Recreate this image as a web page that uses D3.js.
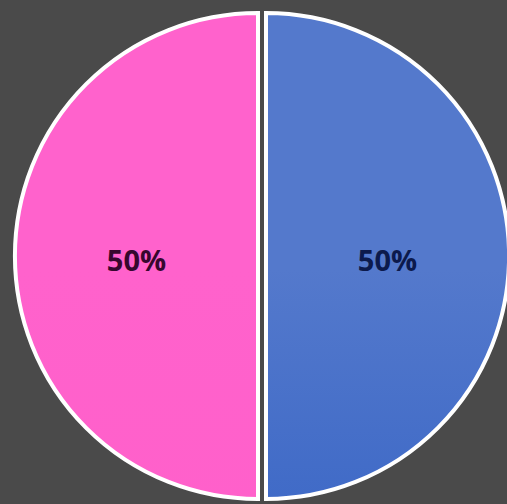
<!DOCTYPE html>
<html>
<head>
<meta charset="utf-8">
<script src="https://cdn.jsdelivr.net/npm/d3@7"></script>
<style>
  html, body { margin: 0; padding: 0; background: #4a4a4a; overflow: hidden; }
  svg { display: block; }
</style>
</head>
<body>
<svg id="chart" width="507" height="504"></svg>
<script>
// Two-slice pie, equal shares
const categories = ["B", "A"];
const values = [50, 50];
const labels = ["50%", "50%"];

const width = 507, height = 504;
const cx = 262, cy = 256, radius = 243, explode = 4;
const labelDrop = 5;

const svg = d3.select("#chart");

svg.append("rect").attr("width", width).attr("height", height).attr("fill", "#4a4a4a");

const defs = svg.append("defs");
const gBlue = defs.append("linearGradient")
  .attr("id", "gradB").attr("gradientUnits", "userSpaceOnUse")
  .attr("x1", 0).attr("y1", cy - radius).attr("x2", 0).attr("y2", cy + radius);
gBlue.append("stop").attr("offset", "0%").attr("stop-color", "#5479cc");
gBlue.append("stop").attr("offset", "50%").attr("stop-color", "#3f6ac7");
gBlue.append("stop").attr("offset", "100%").attr("stop-color", "#2d5dc4");

const gPink = defs.append("linearGradient")
  .attr("id", "gradA").attr("gradientUnits", "userSpaceOnUse")
  .attr("x1", 0).attr("y1", cy - radius).attr("x2", 0).attr("y2", cy + radius);
gPink.append("stop").attr("offset", "0%").attr("stop-color", "#ff62cc");
gPink.append("stop").attr("offset", "100%").attr("stop-color", "#ff5ec9");

const fills = d3.scaleOrdinal().domain(categories).range(["url(#gradB)", "url(#gradA)"]);
const textColors = d3.scaleOrdinal().domain(categories).range(["#0c1a4c", "#36072e"]);

const pie = d3.pie().sort(null).value(d => d.value);
const arc = d3.arc().innerRadius(0).outerRadius(radius);

const data = categories.map((c, i) => ({ cat: c, value: values[i], label: labels[i] }));
const arcs = pie(data);

const g = svg.append("g").attr("transform", `translate(${cx},${cy})`);

const slices = g.selectAll("g.slice").data(arcs).join("g")
  .attr("class", "slice")
  .attr("transform", d => {
    const mid = (d.startAngle + d.endAngle) / 2;
    return `translate(${Math.sin(mid) * explode},${-Math.cos(mid) * explode})`;
  });

slices.append("path")
  .attr("d", arc)
  .attr("fill", d => fills(d.data.cat))
  .attr("stroke", "#ffffff")
  .attr("stroke-width", 4)
  .attr("stroke-linejoin", "miter");

slices.append("text")
  .attr("transform", d => {
    const [x, y] = arc.centroid(d);
    return `translate(${x},${y + labelDrop})`;
  })
  .attr("text-anchor", "middle")
  .attr("dy", "0.35em")
  .attr("font-family", "'Open Sans', 'DejaVu Sans', sans-serif")
  .attr("font-weight", 700)
  .attr("font-size", 29)
  .attr("fill", d => textColors(d.data.cat))
  .text(d => d.data.label);
</script>
</body>
</html>
